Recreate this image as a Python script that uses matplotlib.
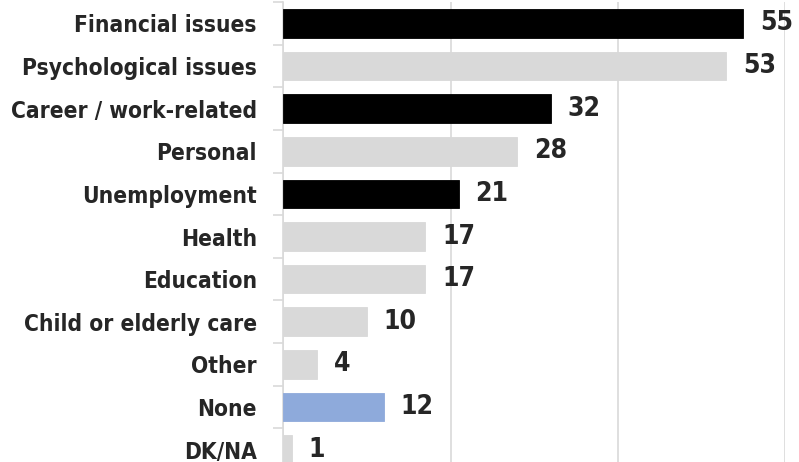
import matplotlib
matplotlib.use("Agg")
import matplotlib.pyplot as plt
import numpy as np

# data
categories = ["Financial issues", "Psychological issues", "Career / work-related",
              "Personal", "Unemployment", "Health", "Education",
              "Child or elderly care", "Other", "None", "DK/NA"]
values = [55, 53, 32, 28, 21, 17, 17, 10, 4, 12, 1]
bar_colors = ["#000000", "#d9d9d9", "#000000", "#d9d9d9", "#000000", "#d9d9d9",
              "#d9d9d9", "#d9d9d9", "#d9d9d9", "#8eaadb", "#d9d9d9"]

plt.rcParams["font.family"] = ["DejaVu Sans"]
plt.rcParams["font.stretch"] = "condensed"

fig = plt.figure(figsize=(7.99, 4.62), dpi=100)
ax = fig.add_axes([283.3 / 799, -9 / 462, (785 - 283.3) / 799, 469 / 462])

y = np.arange(len(categories))
ax.barh(y, values, height=0.67, color=bar_colors, edgecolor=bar_colors,
        linewidth=0.6, zorder=3)

for yi, v in zip(y, values):
    ax.text(v + 2.0, yi, str(v), va="center", ha="left", fontsize=19,
            fontweight="bold", color="#262626")

ax.set_ylim(len(categories) - 0.5, -0.5)
ax.set_xlim(0, 60)
ax.set_yticks(y)
ax.set_yticklabels(categories, fontsize=16.3, fontweight="bold", color="#262626")
ax.set_yticks(np.arange(-0.5, len(categories), 1), minor=True)
ax.tick_params(axis="y", which="major", length=0, pad=19)
ax.tick_params(axis="y", which="minor", length=7, color="#d9d9d9", width=1.2)
ax.set_xticks([0, 20, 40, 60])
ax.tick_params(axis="x", length=0, labelbottom=False)
ax.grid(axis="x", color="#d9d9d9", linewidth=1.2, zorder=0)

for side in ["top", "right", "bottom"]:
    ax.spines[side].set_visible(False)
ax.spines["left"].set_color("#d9d9d9")
ax.spines["left"].set_linewidth(1.2)

fig.savefig("out.png", dpi=100)
